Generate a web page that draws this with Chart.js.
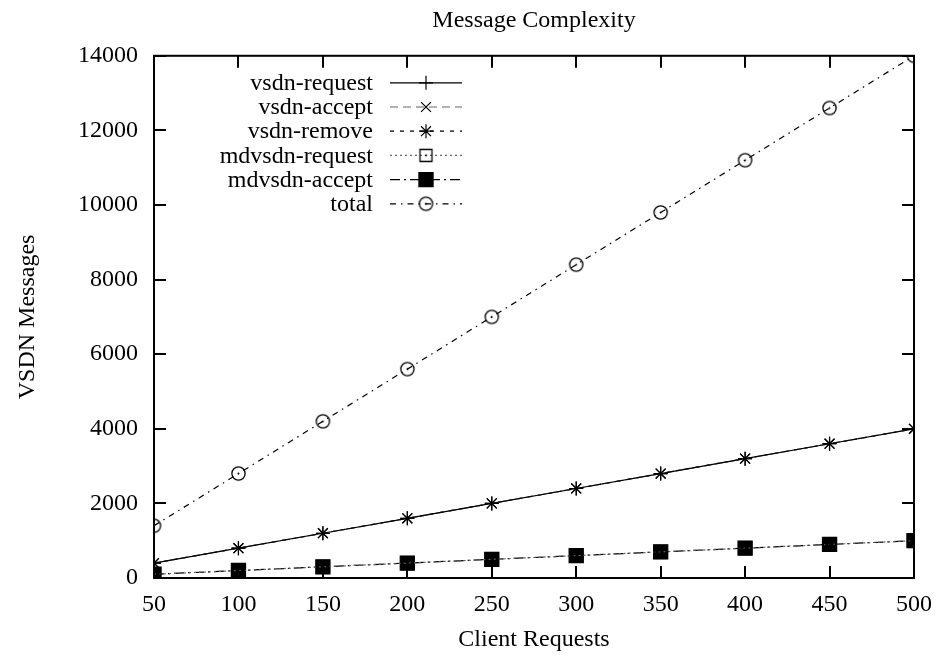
<!DOCTYPE html>
<html>
<head>
<meta charset="utf-8">
<script src="https://cdn.jsdelivr.net/npm/chart.js@4/dist/chart.umd.min.js"></script>
<style>
  html, body { margin: 0; padding: 0; background: #fff; }
  #wrap { width: 939px; height: 656px; }
</style>
</head>
<body>
<div id="wrap"><canvas id="myChart" width="939" height="656"></canvas></div>
<script>
// data
var clientRequests = [50, 100, 150, 200, 250, 300, 350, 400, 450, 500];
var vsdnRequest = [400, 800, 1200, 1600, 2000, 2400, 2800, 3200, 3600, 4000];
var vsdnAccept = [400, 800, 1200, 1600, 2000, 2400, 2800, 3200, 3600, 4000];
var vsdnRemove = [400, 800, 1200, 1600, 2000, 2400, 2800, 3200, 3600, 4000];
var mdvsdnRequest = [100, 200, 300, 400, 500, 600, 700, 800, 900, 1000];
var mdvsdnAccept = [100, 200, 300, 400, 500, 600, 700, 800, 900, 1000];
var total = [1400, 2800, 4200, 5600, 7000, 8400, 9800, 11200, 12600, 14000];

var FONT = "'Liberation Serif', 'DejaVu Serif', serif";
var FS = 24;

function pts(vals) {
  return vals.map(function (v, i) { return { x: clientRequests[i], y: v }; });
}

// gnuplot style markers with a centre dot
function dotMarker(kind) {
  var c = document.createElement("canvas");
  c.width = 17; c.height = 17;
  var g = c.getContext("2d");
  g.strokeStyle = "#000";
  g.lineWidth = 1.3;
  g.beginPath();
  if (kind === "circle") g.arc(8.5, 8.5, 6.6, 0, Math.PI * 2);
  else g.rect(2.5, 2.5, 12, 12);
  g.stroke();
  g.fillStyle = "#000";
  g.beginPath();
  g.arc(8.5, 8.5, 0.9, 0, Math.PI * 2);
  g.fill();
  return c;
}
var circleDot = dotMarker("circle");
var squareDot = dotMarker("square");

var datasets = [
  { label: "vsdn-request", data: pts(vsdnRequest), borderColor: "#000", borderDash: [],
    pointStyle: "cross", pointRadius: 7 },
  { label: "vsdn-accept", data: pts(vsdnAccept), borderColor: "#666", borderDash: [8, 5],
    pointStyle: "crossRot", pointRadius: 7 },
  { label: "vsdn-remove", data: pts(vsdnRemove), borderColor: "#000", borderDash: [4, 6],
    pointStyle: "star", pointRadius: 7 },
  { label: "mdvsdn-request", data: pts(mdvsdnRequest), borderColor: "#666", borderDash: [2, 3],
    pointStyle: squareDot, pointRadius: 7 },
  { label: "mdvsdn-accept", data: pts(mdvsdnAccept), borderColor: "#000", borderDash: [10, 4, 2, 4],
    pointStyle: "rect", pointRadius: 10, pointBackgroundColor: "#000" },
  { label: "total", data: pts(total), borderColor: "#000", borderDash: [6, 5, 1.5, 5],
    pointStyle: circleDot, pointRadius: 7 },
];
datasets.forEach(function (d) {
  d.borderWidth = 1.2;
  d.fill = false;
  d.tension = 0;
  d.pointBorderColor = "#000";
  d.pointBorderWidth = 1.2;
  if (!d.pointBackgroundColor) d.pointBackgroundColor = "rgba(0,0,0,0)";
});

// frame with inward ticks on all four sides, like gnuplot
var framePlugin = {
  id: "frame",
  afterDatasetsDraw: function (chart) {
    var ctx = chart.ctx, a = chart.chartArea;
    var xs = chart.scales.x, ys = chart.scales.y;
    var tl = 12;
    ctx.save();
    ctx.strokeStyle = "#000";
    ctx.lineWidth = 2;
    ctx.beginPath();
    xs.ticks.forEach(function (t) {
      var px = Math.round(xs.getPixelForValue(t.value));
      ctx.moveTo(px, a.bottom); ctx.lineTo(px, a.bottom - tl);
      ctx.moveTo(px, a.top); ctx.lineTo(px, a.top + tl);
    });
    ys.ticks.forEach(function (t) {
      var py = Math.round(ys.getPixelForValue(t.value));
      ctx.moveTo(a.left, py); ctx.lineTo(a.left + tl, py);
      ctx.moveTo(a.right, py); ctx.lineTo(a.right - tl, py);
    });
    ctx.stroke();
    ctx.lineWidth = 2;
    ctx.strokeRect(a.left, a.top, a.right - a.left, a.bottom - a.top);
    ctx.restore();
  },
};

// key drawn top-left, text right-aligned with the sample on its right
var keyPlugin = {
  id: "key",
  afterDraw: function (chart) {
    var ctx = chart.ctx, a = chart.chartArea;
    var textRight = a.left + 219, lineL = a.left + 236, lineR = a.left + 308;
    var y0 = a.top + 27, dy = 24.2;
    ctx.save();
    ctx.font = FS + "px " + FONT;
    ctx.textAlign = "right";
    ctx.textBaseline = "middle";
    chart.data.datasets.forEach(function (d, i) {
      var y = y0 + i * dy;
      ctx.fillStyle = "#000";
      ctx.fillText(d.label, textRight, y + 1);
      ctx.strokeStyle = d.borderColor;
      ctx.lineWidth = d.borderWidth;
      ctx.setLineDash(d.borderDash);
      ctx.beginPath();
      ctx.moveTo(lineL, y); ctx.lineTo(lineR, y);
      ctx.stroke();
      ctx.setLineDash([]);
      ctx.fillStyle = d.pointBackgroundColor;
      ctx.strokeStyle = "#000";
      ctx.lineWidth = d.pointBorderWidth;
      Chart.helpers.drawPoint(ctx, { pointStyle: d.pointStyle, radius: d.pointRadius, rotation: 0, borderWidth: d.pointBorderWidth },
        (lineL + lineR) / 2, y);
    });
    ctx.restore();
  },
};

var ctx = document.getElementById("myChart").getContext("2d");
var myChart = new Chart(ctx, {
  type: "line",
  data: { datasets: datasets },
  plugins: [framePlugin, keyPlugin],
  options: {
    responsive: false,
    animation: false,
    layout: { padding: { left: 0, right: 25, top: 0, bottom: 0 } },
    plugins: {
      legend: { display: false },
      tooltip: { enabled: false },
      title: {
        display: true,
        fullSize: false,
        text: "Message Complexity",
        color: "#000",
        font: { family: FONT, size: FS, weight: "normal", lineHeight: 1.2 },
        padding: { top: 6, bottom: 21 },
      },
    },
    scales: {
      x: {
        type: "linear",
        min: 50,
        max: 500,
        ticks: { stepSize: 50, color: "#000", padding: 12, maxRotation: 0,
          font: { family: FONT, size: FS } },
        grid: { display: false, drawTicks: false },
        border: { display: false },
        title: { display: true, text: "Client Requests", color: "#000",
          font: { family: FONT, size: FS, lineHeight: 1.2 }, padding: { top: 2, bottom: 2 } },
        afterFit: function (s) { s.height = 78; s.paddingLeft = 0; s.paddingRight = 0; },
      },
      y: {
        min: 0,
        max: 14000,
        ticks: { stepSize: 2000, color: "#000", padding: 16,
          font: { family: FONT, size: FS },
          callback: function (v) { return String(v); } },
        grid: { display: false, drawTicks: false },
        border: { display: false },
        title: { display: true, text: "VSDN Messages", color: "#000",
          font: { family: FONT, size: FS, lineHeight: 1.2 }, padding: { top: 13, bottom: 13 } },
        afterFit: function (s) { s.width = 154; s.paddingTop = 0; s.paddingBottom = 0; },
      },
    },
  },
});
</script>
</body>
</html>
